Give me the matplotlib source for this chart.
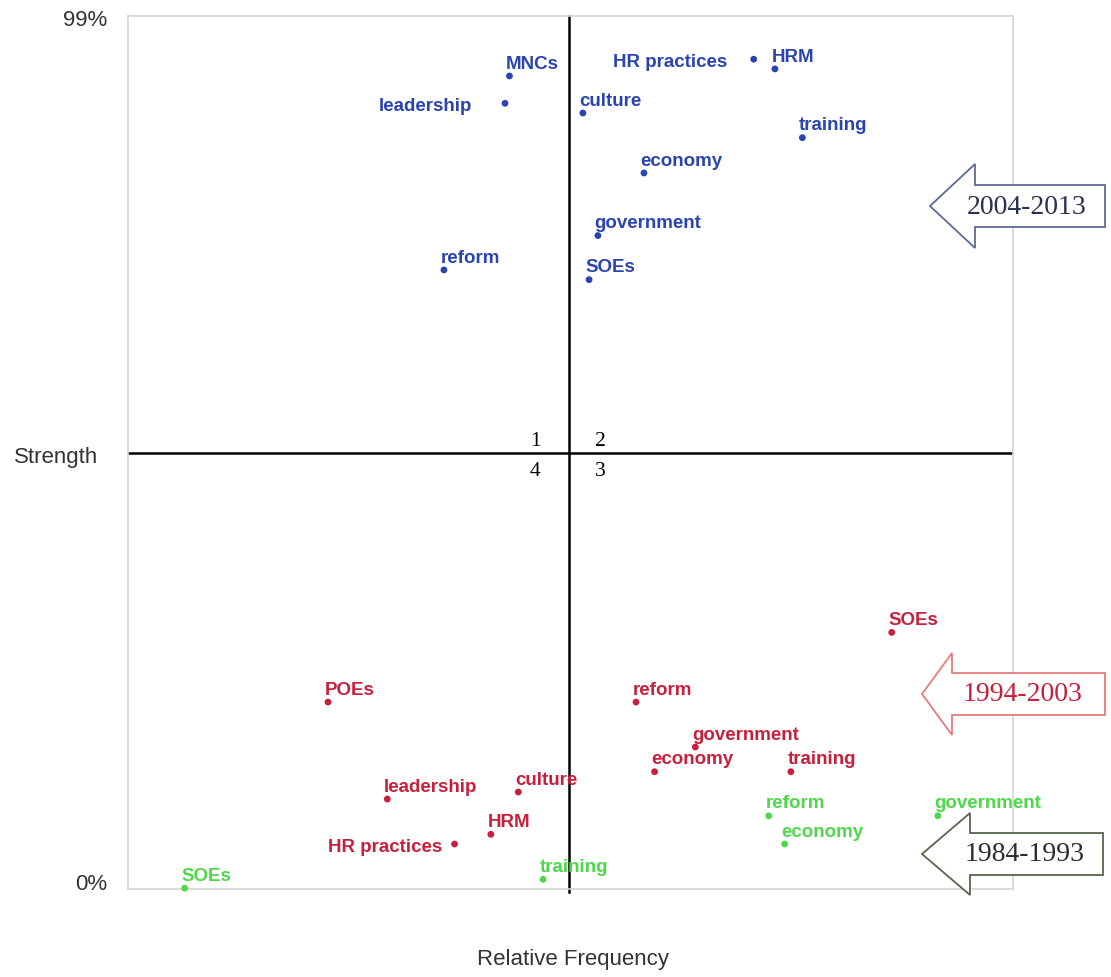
import matplotlib.pyplot as plt
from matplotlib.patches import Polygon

# keyword positions (relative frequency, strength %) per period
words_04 = ["MNCs", "leadership", "culture", "HR practices", "HRM", "training",
            "economy", "government", "reform", "SOEs"]
x_04 = [43.1, 42.6, 51.4, 70.7, 73.1, 76.2, 58.3, 53.1, 35.7, 52.1]
y_04 = [92.2, 89.1, 88.0, 94.1, 93.0, 85.2, 81.2, 74.1, 70.2, 69.1]

words_94 = ["SOEs", "POEs", "reform", "government", "economy", "training",
            "leadership", "culture", "HRM", "HR practices"]
x_94 = [86.3, 22.6, 57.4, 64.1, 59.5, 74.9, 29.3, 44.1, 41.0, 36.9]
y_94 = [29.1, 21.2, 21.2, 16.1, 13.3, 13.3, 10.2, 11.0, 6.2, 5.1]

words_84 = ["SOEs", "training", "reform", "economy", "government"]
x_84 = [6.4, 46.9, 72.4, 74.2, 91.5]
y_84 = [0.1, 1.1, 8.3, 5.1, 8.3]

cross_x, cross_y = 49.8, 49.4

# labels drawn to the left of their dot, with their offset in points
left_labels = {("04", "leadership"): -24, ("04", "HR practices"): -19,
               ("94", "HR practices"): -9}

fig = plt.figure(figsize=(11.11, 9.78), dpi=100)
ax = fig.add_axes([128/1111, 1-890/978, 885/1111, 873/978])
ax.set_xlim(0, 100)
ax.set_ylim(0, 99)
for s in ax.spines.values():
    s.set_color("#d4d4d4")
    s.set_linewidth(1.2)
ax.set_xticks([])
ax.set_yticks([])

ax.axvline(cross_x, ymin=-0.004, ymax=1, color="black", lw=1.8, clip_on=False)
ax.axhline(cross_y, color="black", lw=1.8)

def plot_set(key, words, xs, ys, col):
    ax.scatter(xs, ys, s=24, color=col, zorder=3, clip_on=False, edgecolors="none")
    for w, x, y in zip(words, xs, ys):
        if (key, w) in left_labels:
            ax.annotate(w, (x, y), xytext=(left_labels[(key, w)], 0),
                        textcoords="offset points", ha="right", va="center_baseline",
                        color=col, fontsize=13.5, fontweight="bold",
                        family="Liberation Sans")
        else:
            ax.annotate(w, (x, y), xytext=(-2.5, 6), textcoords="offset points",
                        ha="left", va="baseline", color=col, fontsize=13.5,
                        fontweight="bold", family="Liberation Sans")

plot_set("04", words_04, x_04, y_04, "#2a44b0")
plot_set("94", words_94, x_94, y_94, "#c8203c")
plot_set("84", words_84, x_84, y_84, "#4fd84a")

# quadrant numbers
for t, dx, dy in [("1", -24, 9), ("2", 23, 9), ("4", -24, -12), ("3", 23, -12)]:
    ax.annotate(t, (cross_x, cross_y), xytext=(dx, dy), textcoords="offset points",
                ha="center", va="center", fontsize=15.5, family="Liberation Serif")

# axis texts
txt = dict(color="#333333", family="Liberation Sans", fontsize=16)
fig.text(107/1111, 1-21/978, "99%", ha="right", va="center", **txt)
fig.text(107/1111, 1-885/978, "0%", ha="right", va="center", **txt)
fig.text(98/1111, 1-457/978, "Strength", ha="right", va="center", **txt)
fig.text(573/1111, 1-960/978, "Relative Frequency", ha="center", va="center", **txt)

# hollow arrows with period labels
def arrow(tip_x, cy, neck_x, right_x, half_body, half_head, edge, label, tcol, tx):
    pts = [(tip_x, cy), (neck_x, cy - half_head), (neck_x, cy - half_body),
           (right_x, cy - half_body), (right_x, cy + half_body),
           (neck_x, cy + half_body), (neck_x, cy + half_head)]
    pts = [(px/1111, 1-py/978) for px, py in pts]
    fig.add_artist(Polygon(pts, closed=True, facecolor="white", edgecolor=edge,
                           lw=1.3, transform=fig.transFigure))
    fig.text(tx/1111, 1-cy/978, label, ha="center", va="center",
             fontsize=20, color=tcol, family="Liberation Serif")

arrow(930, 207, 975, 1105, 21, 42, "#5b6b98", "2004-2013", "#2a3050", 1027)
arrow(922, 695, 952, 1105, 21, 41, "#e57b7b", "1994-2003", "#c8203c", 1023)
arrow(922, 855, 970, 1103, 21, 41, "#55664a", "1984-1993", "#2a2f2a", 1025)

fig.savefig("out.png", dpi=100)
